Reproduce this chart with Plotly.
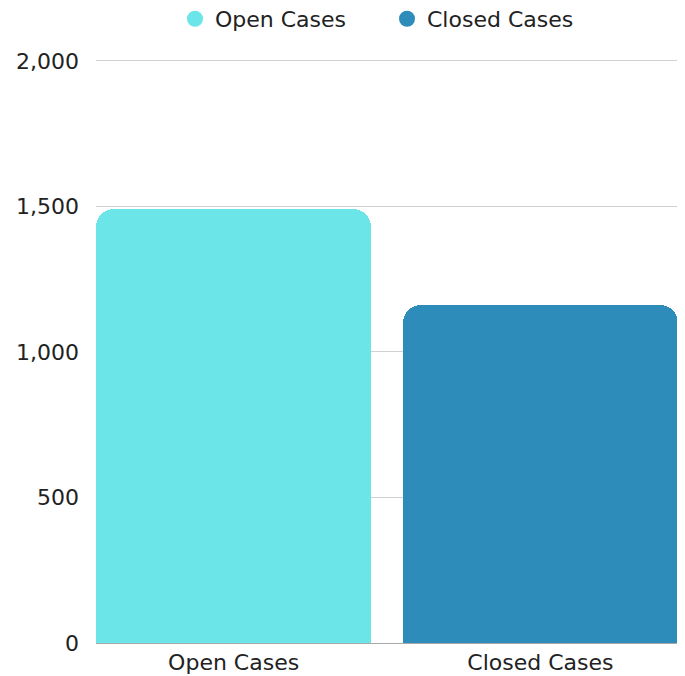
import plotly.graph_objects as go

categories = ["Open Cases", "Closed Cases"]
values = [1490, 1160]
colors = ["#6be5e8", "#2e8cba"]
y_ticks = [0, 500, 1000, 1500, 2000]

FONT = "DejaVu Sans"

fig = go.Figure()
for i, (cat, val, col) in enumerate(zip(categories, values, colors)):
    fig.add_trace(go.Bar(
        x=[i], y=[val], width=0.897,
        marker=dict(color=col, cornerradius=18, line=dict(width=0)),
        name=cat, showlegend=False,
        hoverinfo="skip",
    ))
for cat, col in zip(categories, colors):
    fig.add_trace(go.Scatter(
        x=[None], y=[None], mode="markers", name=cat,
        marker=dict(symbol="circle", color=col, size=22),
    ))

fig.update_layout(
    width=677, height=668,
    margin=dict(l=88, r=7, t=50, b=33, autoexpand=False),
    plot_bgcolor="white", paper_bgcolor="white",
    font=dict(family=FONT, size=22, color="#222222"),
    showlegend=True,
    legend=dict(orientation="h", x=0.5, xanchor="center", y=1.0667, yanchor="middle",
                font=dict(size=22), itemsizing="trace", traceorder="normal",
                entrywidth=167, entrywidthmode="pixels"),
    xaxis=dict(
        range=[-0.4487, 1.4487],
        tickmode="array", tickvals=[0, 1], ticktext=categories,
        showgrid=False, zeroline=False, showline=False, ticks="",
        ticklabelstandoff=4, automargin=False,
        fixedrange=True,
    ),
    yaxis=dict(
        range=[0, 2010],
        tickmode="array", tickvals=y_ticks, tickformat=",",
        showgrid=True, gridcolor="#d0d0d0", gridwidth=1,
        zeroline=True, zerolinecolor="#a8a8a8", zerolinewidth=1,
        showline=False, ticks="", ticklabelstandoff=16, automargin=False,
    ),
    bargap=0,
)

fig.write_html("out.html")
